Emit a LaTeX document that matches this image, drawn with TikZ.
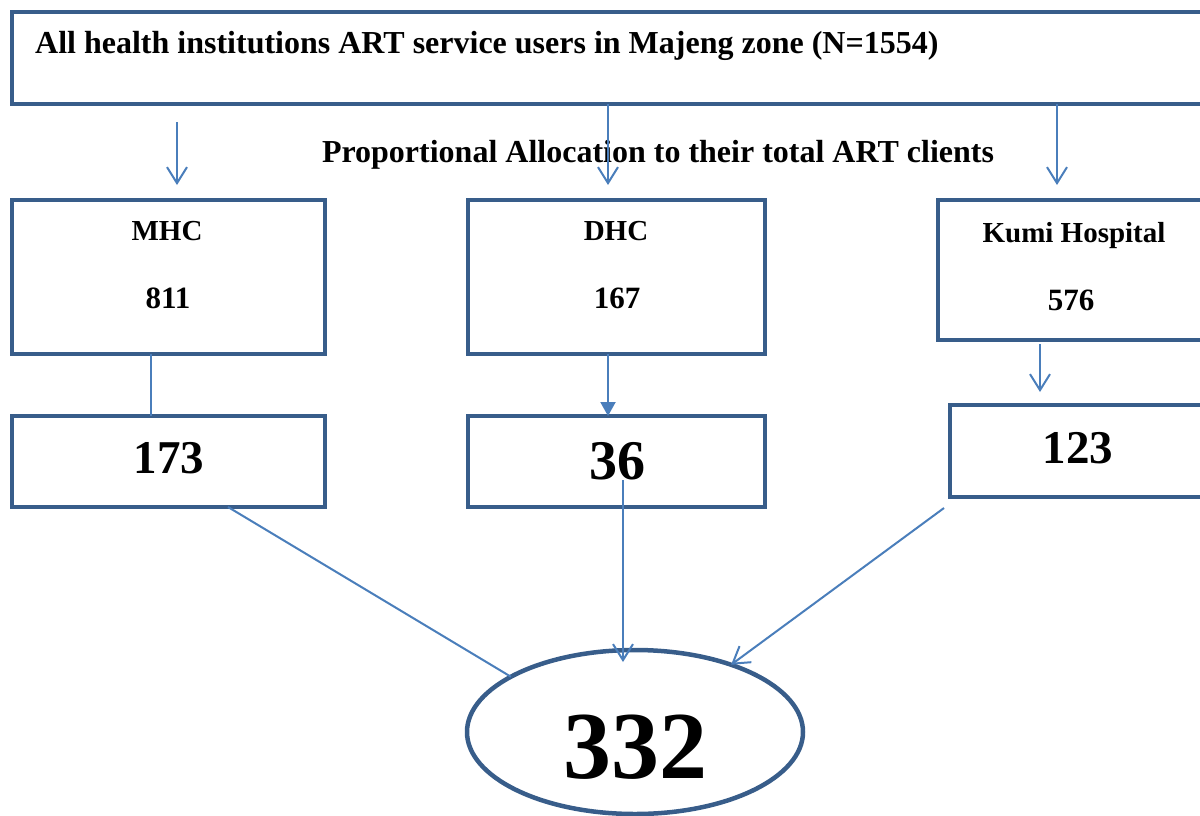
\documentclass[tikz,border=0pt]{standalone}
\usepackage{fontspec}
\setmainfont{Liberation Serif}
\usetikzlibrary{arrows.meta, shapes.geometric}
\definecolor{boxblue}{RGB}{56,93,138}
\definecolor{linkblue}{RGB}{74,126,187}

\begin{document}
\begin{tikzpicture}[
    x=1pt, y=-1pt,
    box/.style={draw=boxblue, line width=4.5pt, inner sep=0pt, outer sep=0pt, anchor=north west},
    link/.style={draw=linkblue, line width=2pt},
    arrow/.style={link, -{Straight Barb[length=16pt, width=20pt, line width=2pt]}},
    tri/.style={link, -{Triangle[length=14pt, width=15pt]}},
    txt/.style={inner sep=0pt, anchor=base},
    inst/.style={txt, font=\bfseries\fontsize{29}{34}\selectfont},
    count/.style={txt, font=\bfseries\fontsize{31}{36}\selectfont},
    big/.style={txt, font=\bfseries\fontsize{47}{56}\selectfont}
]
\path[use as bounding box, clip] (0,0) rectangle (1200,815);

% Boxes
\node (all) [box, minimum width=1200pt, minimum height=92pt] at (12,12) {};
\node (mhc) [box, minimum width=313pt, minimum height=154pt] at (12,200) {};
\node (dhc) [box, minimum width=297pt, minimum height=154pt] at (468,200) {};
\node (kumi) [box, minimum width=268pt, minimum height=140pt] at (938,200) {};
\node (n173) [box, minimum width=313pt, minimum height=91pt] at (12,416) {};
\node (n36) [box, minimum width=297pt, minimum height=91pt] at (468,416) {};
\node (n123) [box, minimum width=256pt, minimum height=92pt] at (950,405) {};
\node (total) [draw=boxblue, line width=4.5pt, ellipse, outer sep=0pt,
    minimum width=336pt, minimum height=164pt] at (635,732) {};

% Texts
\node (alltxt) [txt, anchor=base west, font=\bfseries\fontsize{32}{38}\selectfont] at (35,53)
    {All health institutions ART service users in Majeng zone (N=1554)};
\node (alloc) [txt, font=\bfseries\fontsize{32}{38}\selectfont] at (658,162)
    {Proportional Allocation to their total ART clients};
\node (mhcname) [inst] at (167,240) {MHC};
\node (mhcnum) [count] at (168,308) {811};
\node (dhcname) [inst] at (616,240) {DHC};
\node (dhcnum) [count] at (617,308) {167};
\node (kuminame) [inst] at (1074,242) {Kumi Hospital};
\node (kuminum) [count] at (1071,310) {576};
\node (v173) [big] at (169,473) {173};
\node (v36) [big, font=\bfseries\fontsize{56}{64}\selectfont] at (617,479) {36};
\node (v123) [big] at (1078,463) {123};
\node (v332) [txt, font=\bfseries\fontsize{96}{110}\selectfont] at (635,778) {332};

% Edges
\coordinate (mhctop) at (177,185);
\coordinate (dhctop) at (608,185);
\coordinate (kumitop) at (1057,185);
\draw [arrow, shorten <=18pt] (all.south -| mhctop) -- (mhctop);
\draw [arrow] (all.south -| dhctop) -- (dhctop);
\draw [arrow] (all.south -| kumitop) -- (kumitop);

\coordinate (mhcdown) at (151,380);
\coordinate (dhcdown) at (608,380);
\coordinate (kumidown) at (1040,392);
\draw [link] (mhc.south -| mhcdown) -- (n173.north -| mhcdown);
\draw [tri] (dhc.south -| dhcdown) -- (n36.north -| dhcdown);
\draw [arrow, shorten <=4pt] (kumi.south -| kumidown) -- (kumidown);

\coordinate (mid36) at (623,480);
\draw [link] ([shift={(59.5,0)}]n173.south) -- (total.156);
\draw [arrow, shorten >=-12pt] (mid36) -- (mid36 |- total.north);
\draw [arrow] ([shift={(-6,11)}]n123.south west) -- (total.35);

\end{tikzpicture}
\end{document}
